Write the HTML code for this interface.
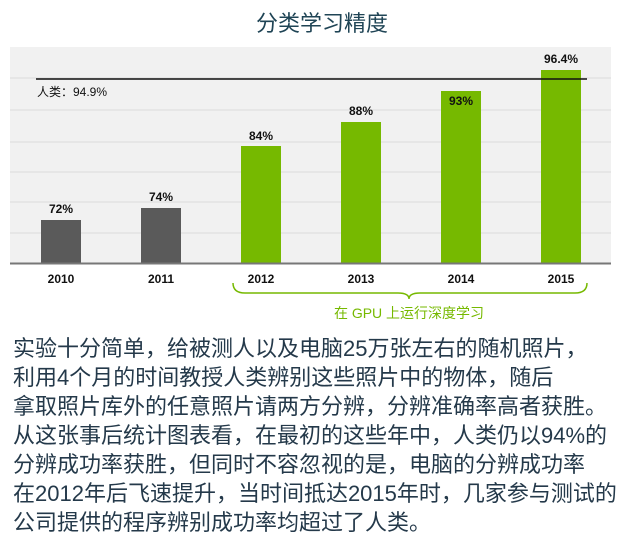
<!DOCTYPE html>
<html><head><meta charset="utf-8"><style>
body{margin:0;width:620px;height:537px;background:#fff;overflow:hidden;font-family:"Liberation Sans","Noto Sans CJK SC",sans-serif;}
.t{position:absolute;left:13px;font-size:22px;color:#24394a;white-space:nowrap;line-height:29px;}
</style></head><body>
<svg width="620" height="330" style="position:absolute;left:0;top:0" font-family="Liberation Sans, Noto Sans CJK SC, sans-serif">
<text x="322" y="31" text-anchor="middle" font-size="22" fill="#1f4455">分类学习精度</text>
<rect x="10" y="47" width="601" height="216" fill="#f1f1f1"/>
<g stroke="#dcdcdc" stroke-width="1">
<line x1="10" x2="611" y1="78" y2="78"/><line x1="10" x2="611" y1="110" y2="110"/>
<line x1="10" x2="611" y1="142" y2="142"/><line x1="10" x2="611" y1="172" y2="172"/>
<line x1="10" x2="611" y1="202" y2="202"/><line x1="10" x2="611" y1="233" y2="233"/>
</g>
<rect x="41" y="220" width="40" height="43" fill="#5a5a5a"/>
<rect x="141" y="208" width="40" height="55" fill="#5a5a5a"/>
<rect x="241" y="146" width="40" height="117" fill="#76b900"/>
<rect x="341" y="122" width="40" height="141" fill="#76b900"/>
<rect x="441" y="91" width="40" height="172" fill="#76b900"/>
<rect x="541" y="70" width="40" height="193" fill="#76b900"/>
<line x1="10" x2="611" y1="263.5" y2="263.5" stroke="#777" stroke-width="2"/>
<line x1="36" x2="587" y1="79" y2="79" stroke="#111" stroke-width="1.5"/>
<g font-size="12" fill="#111" text-anchor="middle" font-weight="bold">
<text x="61" y="213">72%</text><text x="161" y="201">74%</text>
<text x="261" y="140">84%</text><text x="361" y="115">88%</text>
<text x="461" y="105">93%</text><text x="561" y="63">96.4%</text>
<text x="61" y="283">2010</text><text x="161" y="283">2011</text><text x="261" y="283">2012</text>
<text x="361" y="283">2013</text><text x="461" y="283">2014</text><text x="561" y="283">2015</text>
</g>
<text x="37" y="96" font-size="12" fill="#111">人类：94.9%</text>
<path d="M233,283 Q233,293 245,293 L398,293 Q409,293 409,299 Q409,293 420,293 L575,293 Q587,293 587,283" fill="none" stroke="#76b900" stroke-width="1.5"/>
<text x="409" y="318" text-anchor="middle" font-size="14" fill="#76b900">在 GPU 上运行深度学习</text>
</svg>
<div class="t" style="top:334px">实验十分简单，给被测人以及电脑25万张左右的随机照片，</div>
<div class="t" style="top:363px">利用4个月的时间教授人类辨别这些照片中的物体，随后</div>
<div class="t" style="top:392px">拿取照片库外的任意照片请两方分辨，分辨准确率高者获胜。</div>
<div class="t" style="top:421px">从这张事后统计图表看，在最初的这些年中，人类仍以94%的</div>
<div class="t" style="top:450px">分辨成功率获胜，但同时不容忽视的是，电脑的分辨成功率</div>
<div class="t" style="top:479px">在2012年后飞速提升，当时间抵达2015年时，几家参与测试的</div>
<div class="t" style="top:508px">公司提供的程序辨别成功率均超过了人类。</div>
</body></html>
